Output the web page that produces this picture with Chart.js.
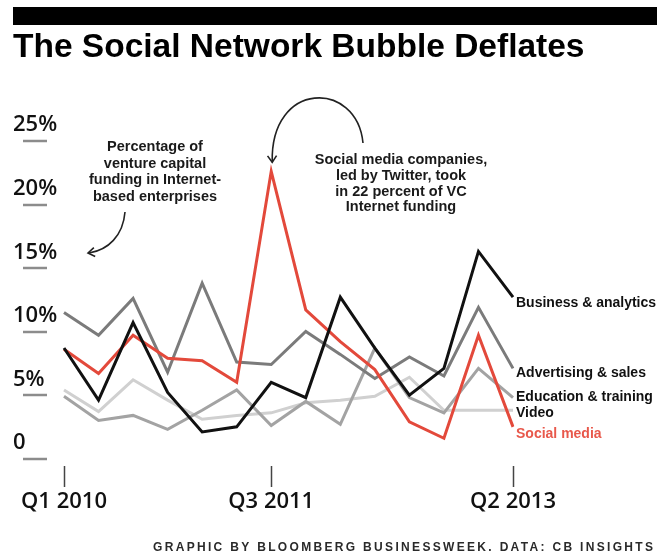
<!DOCTYPE html>
<html>
<head>
<meta charset="utf-8">
<script src="https://cdn.jsdelivr.net/npm/chart.js@4.4.1/dist/chart.umd.min.js"></script>
<style>
  html, body { margin: 0; padding: 0; background: #fff; }
  #wrap { width: 657px; height: 556px; }
</style>
</head>
<body>
<div id="wrap"><canvas id="grafico" width="657" height="556"></canvas></div>
<script>
// Dados (percentual do financiamento VC em empresas de Internet)
const quarters = ['Q1 2010', 'Q2 2010', 'Q3 2010', 'Q4 2010', 'Q1 2011', 'Q2 2011', 'Q3 2011',
  'Q4 2011', 'Q1 2012', 'Q2 2012', 'Q3 2012', 'Q4 2012', 'Q1 2013', 'Q2 2013'];
const shownQuarters = ['Q1 2010', 'Q3 2011', 'Q2 2013'];
const yTicks = [0, 5, 10, 15, 20, 25];

const business    = [8.1, 4.0, 10.1, 4.6, 1.5, 1.9, 5.4, 4.2, 12.1, 8.1, 4.4, 6.5, 15.7, 12.1];
const social      = [8.0, 6.1, 9.1, 7.3, 7.1, 5.4, 22.0, 11.1, 8.6, 6.4, 2.3, 1.0, 9.1, 1.9];
const advertising = [10.9, 9.1, 12.0, 6.2, 13.2, 7.0, 6.8, 9.4, 7.6, 5.7, 7.4, 5.9, 11.3, 6.5];
const education   = [4.3, 2.4, 2.8, 1.7, 3.2, 4.8, 2.0, 3.9, 2.1, 8.1, 4.2, 3.0, 6.5, 4.2];
const video       = [4.8, 3.1, 5.6, 4.0, 2.5, 2.8, 3.0, 3.8, 4.0, 4.3, 5.8, 3.2, 3.2, 3.2];

const seriesNames = ['Business & analytics', 'Social media', 'Advertising & sales', 'Education & training', 'Video'];
const seriesColors = ['#111111', '#e3493b', '#7b7b7b', '#a3a3a3', '#d0d0d0'];
const labelColors = ['#111111', '#e8584b', '#111111', '#111111', '#111111'];
const labelNudge = [6, 7, 4.5, -0.5, 3];

const noteLeft = ['Percentage of', 'venture capital', 'funding in Internet-', 'based enterprises'];
const noteRight = ['Social media companies,', 'led by Twitter, took', 'in 22 percent of VC', 'Internet funding'];
const credit = 'GRAPHIC BY BLOOMBERG BUSINESSWEEK. DATA: CB INSIGHTS';

function arrowHead(ctx, x, y, angle) {
  const len = 8;
  ctx.beginPath();
  ctx.moveTo(x - len * Math.cos(angle - 0.6), y - len * Math.sin(angle - 0.6));
  ctx.lineTo(x, y);
  ctx.lineTo(x - len * Math.cos(angle + 0.6), y - len * Math.sin(angle + 0.6));
  ctx.stroke();
}

// Plugin para barra, traços, rótulos e notas
const decor = {
  id: 'decor',
  beforeDraw(chart) {
    const ctx = chart.ctx;
    ctx.save();
    ctx.fillStyle = '#000';
    ctx.fillRect(13, 7, chart.width - 13, 18);
    ctx.restore();
  },
  afterDraw(chart) {
    const ctx = chart.ctx;
    const x = chart.scales.x;
    const y = chart.scales.y;
    ctx.save();

    // traços sob os rótulos do eixo y
    ctx.strokeStyle = '#8c8c8c';
    ctx.lineWidth = 2.5;
    y.ticks.forEach(t => {
      const py = Math.round(y.getPixelForValue(t.value) + 8);
      ctx.beginPath();
      ctx.moveTo(23, py);
      ctx.lineTo(47, py);
      ctx.stroke();
    });

    // rótulos no fim das linhas
    ctx.font = 'bold 14px "Liberation Sans", Arial, sans-serif';
    ctx.textBaseline = 'middle';
    ctx.textAlign = 'left';
    chart.data.datasets.forEach((ds, i) => {
      const last = ds.data.length - 1;
      ctx.fillStyle = labelColors[i];
      ctx.fillText(ds.label, x.getPixelForValue(last) + 3, y.getPixelForValue(ds.data[last]) + labelNudge[i]);
    });

    // notas
    ctx.fillStyle = '#1a1a1a';
    ctx.textAlign = 'center';
    ctx.font = 'bold 14.5px "Liberation Sans", Arial, sans-serif';
    noteLeft.forEach((t, i) => ctx.fillText(t, 155, 147 + i * 16.7));
    noteRight.forEach((t, i) => ctx.fillText(t, 401, 160 + i * 15.8));

    // setas
    ctx.strokeStyle = '#222';
    ctx.lineWidth = 1.6;
    ctx.beginPath();
    ctx.moveTo(125, 212);
    ctx.bezierCurveTo(123, 236, 108, 250, 89, 253);
    ctx.stroke();
    arrowHead(ctx, 88, 253, Math.atan2(253 - 250, 88 - 108));

    const tipX = x.getPixelForValue(6) + 1;
    const tipY = y.getPixelForValue(social[6]) - 9;
    ctx.beginPath();
    ctx.moveTo(363, 143);
    ctx.bezierCurveTo(357, 80, 270, 80, tipX, tipY);
    ctx.stroke();
    arrowHead(ctx, tipX, tipY, Math.atan2(tipY - 80, tipX - 270));

    // crédito
    ctx.fillStyle = '#2a2a2a';
    ctx.textAlign = 'left';
    ctx.font = 'bold 12px "Liberation Sans", Arial, sans-serif';
    const plain = ctx.measureText(credit).width;
    const ls = (500 - plain) / (credit.length - 1);
    ctx.letterSpacing = ls + 'px';
    ctx.fillText(credit, 153, 548);
    ctx.restore();
  }
};

const datasets = [business, social, advertising, education, video].map((arr, i) => ({
  label: seriesNames[i],
  data: arr,
  borderColor: seriesColors[i],
  borderWidth: 3,
  pointRadius: 0,
  tension: 0,
  borderJoinStyle: 'miter',
  fill: false
}));

const ctx = document.getElementById('grafico').getContext('2d');
const myChart = new Chart(ctx, {
  type: 'line',
  data: { labels: quarters, datasets: datasets },
  options: {
    responsive: false,
    animation: false,
    layout: { padding: { top: 0, left: 13, right: 0, bottom: 40 } },
    plugins: {
      legend: { display: false },
      tooltip: { enabled: false },
      title: {
        display: true,
        text: 'The Social Network Bubble Deflates',
        align: 'start',
        color: '#000',
        font: { family: '"Liberation Sans", Arial, sans-serif', size: 33.5, weight: 'bold', lineHeight: 1.2 },
        padding: { top: 28, bottom: 65 }
      }
    },
    scales: {
      x: {
        offset: false,
        border: { display: false },
        grid: {
          drawOnChartArea: false,
          drawTicks: true,
          tickLength: 36,
          tickWidth: 1.5,
          tickBorderDash: [0, 15, 21, 100],
          tickColor: c => shownQuarters.includes(quarters[c.index]) ? '#444' : 'rgba(0,0,0,0)'
        },
        ticks: {
          autoSkip: false,
          maxRotation: 0,
          padding: 2,
          color: '#111',
          font: { family: '"Open Sans", sans-serif', size: 22, weight: '600' },
          callback: function(v, i) { return shownQuarters.includes(quarters[i]) ? quarters[i] : ''; }
        },
        afterFit: s => { s.height = 65; }
      },
      y: {
        min: 0,
        max: 25,
        border: { display: false },
        grid: { display: false },
        afterBuildTicks: s => { s.ticks = yTicks.map(v => ({ value: v })); },
        afterFit: s => { s.width = 51; },
        ticks: {
          crossAlign: 'far',
          labelOffset: -8,
          color: '#111',
          font: { family: '"Open Sans", sans-serif', size: 22, weight: '600' },
          callback: v => v === 0 ? '0' : v + '%'
        }
      },
      // espaço à direita para os rótulos das séries
      yRight: {
        position: 'right',
        min: 0,
        max: 25,
        border: { display: false },
        grid: { display: false },
        ticks: { display: false },
        afterFit: s => { s.width = 144; }
      }
    }
  },
  plugins: [decor]
});
</script>
</body>
</html>
